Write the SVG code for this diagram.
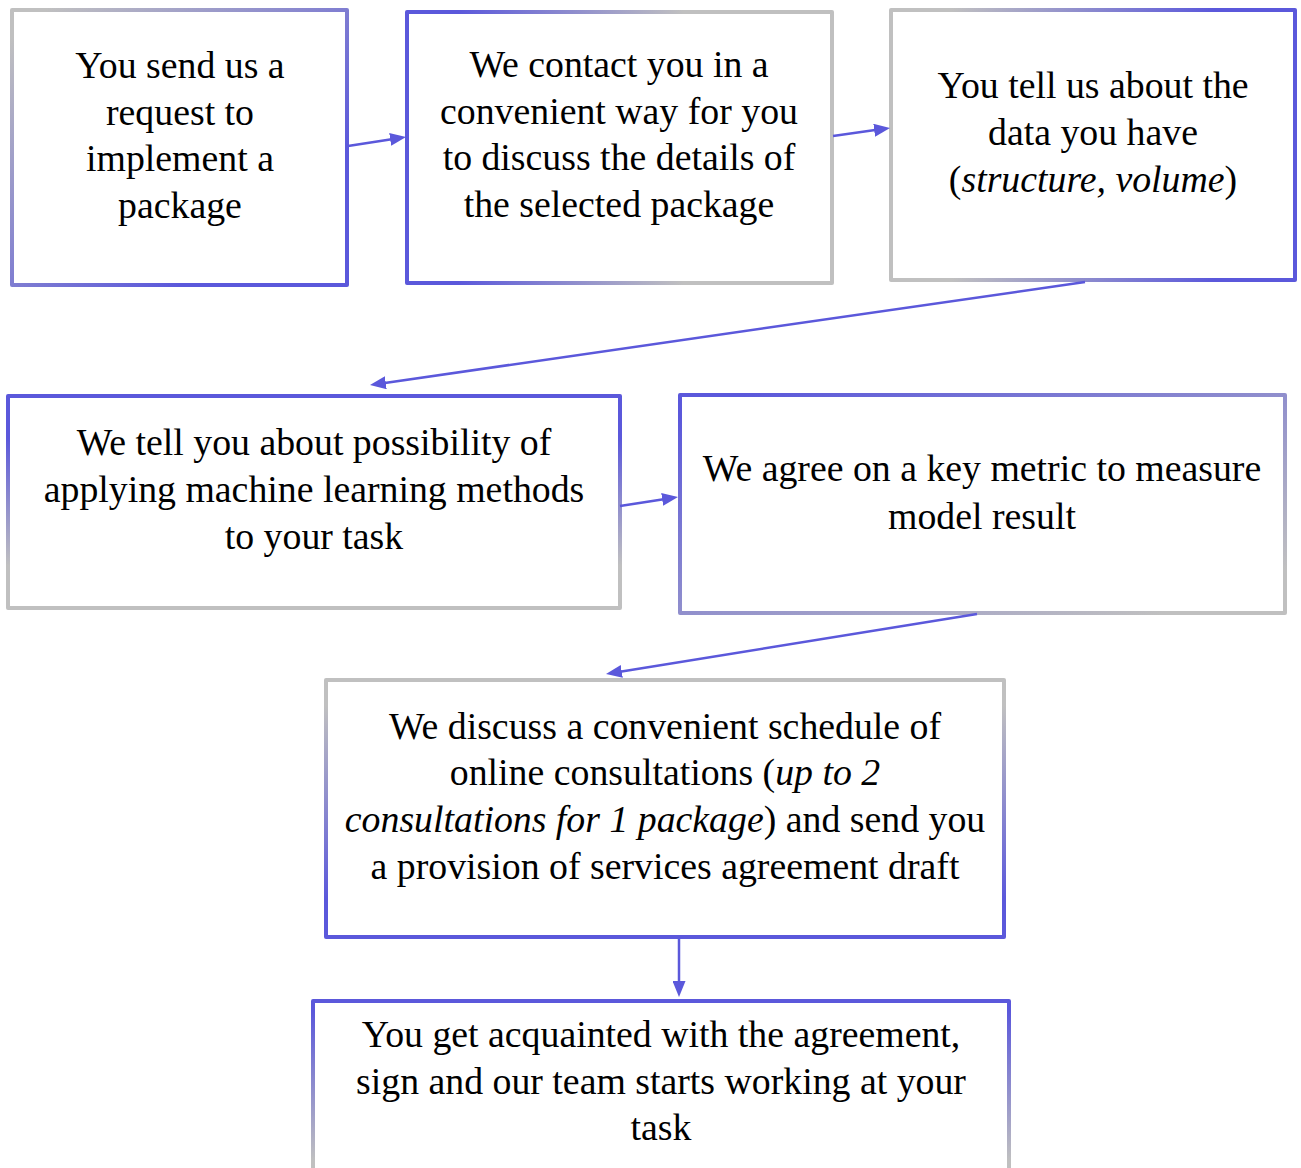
<svg xmlns="http://www.w3.org/2000/svg" width="1301" height="1168" viewBox="0 0 1301 1168">
<style>
.box{fill:#ffffff;stroke-width:4;stroke-linejoin:round}
.t{font-family:"Liberation Serif","Times New Roman",serif;font-size:37.8px;fill:#000;text-anchor:middle}
.conn{stroke:#5b58db;stroke-width:2.5;fill:none;marker-end:url(#ah)}
</style>
<defs>
<marker id="ah" markerUnits="userSpaceOnUse" viewBox="0 0 16 13" markerWidth="16" markerHeight="13" refX="8" refY="6.5" orient="auto">
<path d="M0,0 L16,6.5 L0,13 z" fill="#5b58db"/>
</marker>
<linearGradient id="g1" x1="0" y1="0" x2="1" y2="1"><stop offset="0.05" stop-color="#c0c0c0"/><stop offset="0.75" stop-color="#5b58db"/></linearGradient>
<linearGradient id="g2" x1="0" y1="0" x2="1" y2="0"><stop offset="0.12" stop-color="#5b58db"/><stop offset="0.65" stop-color="#c0c0c0"/></linearGradient>
<linearGradient id="g3" x1="0" y1="0" x2="1" y2="0"><stop offset="0.15" stop-color="#c0c0c0"/><stop offset="0.8" stop-color="#5b58db"/></linearGradient>
<linearGradient id="g4" x1="0" y1="0" x2="0" y2="1"><stop offset="0.2" stop-color="#5b58db"/><stop offset="0.8" stop-color="#c0c0c0"/></linearGradient>
<linearGradient id="g5" x1="0" y1="0" x2="1" y2="1"><stop offset="0.05" stop-color="#5b58db"/><stop offset="0.9" stop-color="#c0c0c0"/></linearGradient>
<linearGradient id="g6" x1="0" y1="0" x2="0" y2="1"><stop offset="0.1" stop-color="#c0c0c0"/><stop offset="0.85" stop-color="#5b58db"/></linearGradient>
<linearGradient id="g7" x1="0" y1="0" x2="0" y2="1"><stop offset="0.05" stop-color="#5b58db"/><stop offset="0.8" stop-color="#c0c0c0"/></linearGradient>
</defs>
<rect width="1301" height="1168" fill="#ffffff"/>

<g id="node1">
<rect class="box" x="12" y="10" width="335" height="275" stroke="url(#g1)"/>
<text class="t" x="180" y="78">You send us a</text>
<text class="t" x="180" y="125">request to</text>
<text class="t" x="180" y="171">implement a</text>
<text class="t" x="180" y="218">package</text>
</g>

<g id="node2">
<rect class="box" x="407" y="12" width="425" height="271" stroke="url(#g2)"/>
<text class="t" x="619" y="77">We contact you in a</text>
<text class="t" x="619" y="124">convenient way for you</text>
<text class="t" x="619" y="170">to discuss the details of</text>
<text class="t" x="619" y="217">the selected package</text>
</g>

<g id="node3">
<rect class="box" x="891" y="10" width="404" height="270" stroke="url(#g3)"/>
<text class="t" x="1093" y="98">You tell us about the</text>
<text class="t" x="1093" y="145">data you have</text>
<text class="t" x="1093" y="192">(<tspan font-style="italic">structure, volume</tspan>)</text>
</g>

<g id="node4">
<rect class="box" x="8" y="396" width="612" height="212" stroke="url(#g4)"/>
<text class="t" x="314" y="455">We tell you about possibility of</text>
<text class="t" x="314" y="502">applying machine learning methods</text>
<text class="t" x="314" y="549">to your task</text>
</g>

<g id="node5">
<rect class="box" x="680" y="395" width="605" height="218" stroke="url(#g5)"/>
<text class="t" x="982" y="481">We agree on a key metric to measure</text>
<text class="t" x="982" y="529">model result</text>
</g>

<g id="node6">
<rect class="box" x="326" y="680" width="678" height="257" stroke="url(#g6)"/>
<text class="t" x="665" y="739">We discuss a convenient schedule of</text>
<text class="t" x="665" y="785">online consultations (<tspan font-style="italic">up to 2</tspan></text>
<text class="t" x="665" y="832"><tspan font-style="italic">consultations for 1 package</tspan>) and send you</text>
<text class="t" x="665" y="879">a provision of services agreement draft</text>
</g>

<g id="node7">
<rect class="box" x="313" y="1001" width="696" height="200" stroke="url(#g7)"/>
<text class="t" x="661" y="1047">You get acquainted with the agreement,</text>
<text class="t" x="661" y="1094">sign and our team starts working at your</text>
<text class="t" x="661" y="1140">task</text>
</g>

<g id="connectors">
<line class="conn" x1="348" y1="146" x2="398.1" y2="138.2"/>
<line class="conn" x1="833" y1="136" x2="882.1" y2="129.1"/>
<line class="conn" x1="1085" y1="282" x2="377.9" y2="383.9"/>
<line class="conn" x1="620" y1="506" x2="670.1" y2="498.2"/>
<line class="conn" x1="977" y1="614" x2="613.9" y2="672.7"/>
<line class="conn" x1="679" y1="938" x2="679" y2="989"/>
</g>
</svg>
